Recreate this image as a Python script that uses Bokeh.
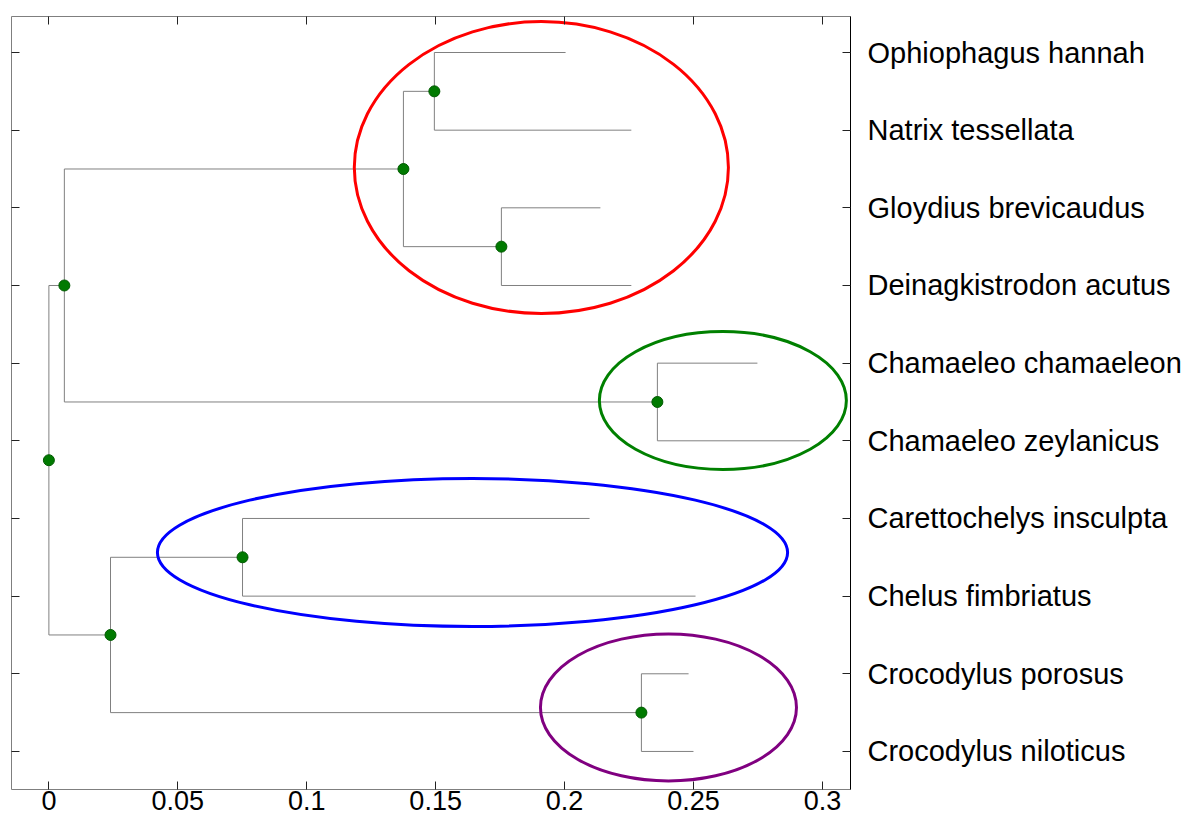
from bokeh.plotting import figure
from bokeh.models import Range1d, LinearAxis, FixedTicker
from bokeh.embed import file_html
from bokeh.resources import INLINE

# ---- data ----
leaf_names = ["Ophiophagus hannah", "Natrix tessellata", "Gloydius brevicaudus",
              "Deinagkistrodon acutus", "Chamaeleo chamaeleon", "Chamaeleo zeylanicus",
              "Carettochelys insculpta", "Chelus fimbriatus", "Crocodylus porosus",
              "Crocodylus niloticus"]
leaf_dist = [0.2004, 0.2259, 0.2139, 0.2259, 0.2748, 0.2950, 0.2097, 0.2508, 0.2481, 0.2500]
# internal nodes (ids 10..18): children and merge distance
merge_children = [(0, 1), (2, 3), (10, 11), (4, 5), (12, 13), (6, 7), (8, 9), (15, 16), (14, 17)]
merge_dist = [0.1495, 0.1755, 0.1375, 0.2360, 0.0060, 0.0751, 0.2298, 0.0239, 0.0]
x_ticks = [0, 0.05, 0.1, 0.15, 0.2, 0.25, 0.3]
x_tick_labels = ["0", "0.05", "0.1", "0.15", "0.2", "0.25", "0.3"]

# cluster annotations
ell_x = [0.1910, 0.2614, 0.1643, 0.2403]
ell_y = [8.519, 5.519, 3.562, 1.566]
ell_w = [0.1451, 0.0958, 0.2444, 0.0993]
ell_h = [3.760, 1.777, 1.906, 1.893]
ell_colors = ["#ff0000", "#008000", "#0000ff", "#800080"]

# ---- tree geometry ----
n_leaf = len(leaf_names)
node_x = list(leaf_dist)
node_y = [float(n_leaf - i) for i in range(n_leaf)]
for (a, b), d in zip(merge_children, merge_dist):
    node_x.append(d)
    node_y.append((node_y[a] + node_y[b]) / 2.0)

x0s, y0s, x1s, y1s = [], [], [], []
for k, (a, b) in enumerate(merge_children):
    n = n_leaf + k
    xn = node_x[n]
    x0s.append(xn); y0s.append(node_y[a]); x1s.append(xn); y1s.append(node_y[b])
    for c in (a, b):
        x0s.append(xn); y0s.append(node_y[c]); x1s.append(node_x[c]); y1s.append(node_y[c])

int_x = node_x[n_leaf:]
int_y = node_y[n_leaf:]

FONT = "Liberation Sans"

p = figure(width=1187, height=822, output_backend="svg", toolbar_location=None,
           x_range=Range1d(-0.0145, 0.3109), y_range=Range1d(0.510, 10.4636),
           x_axis_location=None, y_axis_location=None,
           min_border_left=11, min_border_top=16, min_border_right=337, min_border_bottom=33)
p.grid.visible = False
p.outline_line_color = "#7f7f7f"
p.outline_line_width = 1
p.background_fill_color = "white"

# axes
leaf_y = node_y[:n_leaf]
bottom = LinearAxis(ticker=FixedTicker(ticks=x_ticks),
                    major_label_overrides={t: l for t, l in zip(x_ticks, x_tick_labels)})
top = LinearAxis(ticker=FixedTicker(ticks=x_ticks),
                 major_label_overrides={t: "" for t in x_ticks})
left = LinearAxis(ticker=FixedTicker(ticks=leaf_y),
                  major_label_overrides={int(y): "" for y in leaf_y})
right = LinearAxis(ticker=FixedTicker(ticks=leaf_y),
                   major_label_overrides={int(y): name for y, name in zip(leaf_y, leaf_names)})
for ax in (bottom, top, left, right):
    ax.major_tick_in = 8
    ax.major_tick_out = 0
    ax.minor_tick_line_color = None
    ax.major_tick_line_color = "#222222"
    ax.major_tick_line_width = 1
    ax.axis_line_color = None
    ax.major_label_standoff = 0
    ax.major_label_text_font = FONT
    ax.major_label_text_font_size = "10px"
bottom.major_label_text_font_size = "27px"
bottom.major_label_text_color = "black"
bottom.major_label_standoff = 1
right.major_label_text_font_size = "29px"
right.major_label_text_color = "black"
right.major_label_standoff = 17
right.axis_line_color = "black"
right.axis_line_width = 1
p.add_layout(bottom, "below")
p.add_layout(top, "above")
p.add_layout(left, "left")
p.add_layout(right, "right")

# tree
p.segment(x0=x0s, y0=y0s, x1=x1s, y1=y1s, line_color="#808080", line_width=1)
p.scatter(x=int_x, y=int_y, size=11, fill_color="#007a00", line_color="#005a00", line_width=1)

# cluster ellipses
p.ellipse(x=ell_x, y=ell_y, width=ell_w, height=ell_h, fill_color=None,
          line_color=ell_colors, line_width=3)

open("out.html", "w").write(file_html(p, INLINE))
